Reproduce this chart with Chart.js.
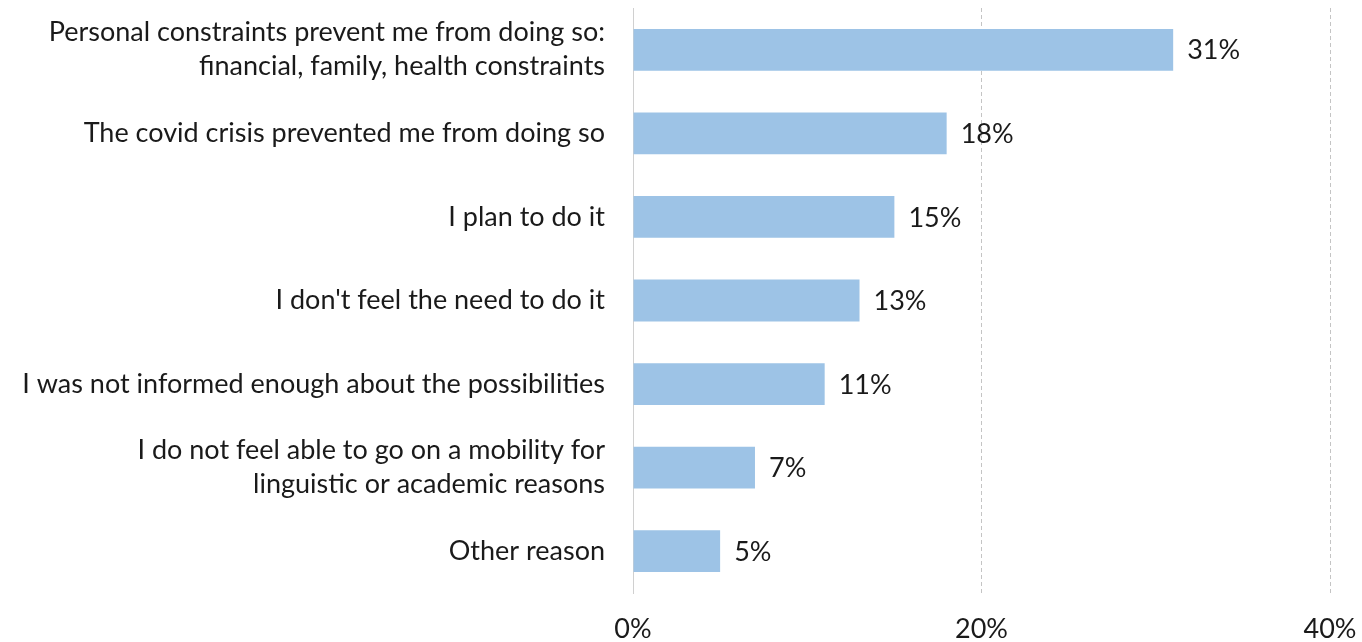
<!DOCTYPE html>
<html>
<head>
<meta charset="utf-8">
<script src="https://cdn.jsdelivr.net/npm/chart.js@4"></script>
<style>
  html, body { margin: 0; padding: 0; background: #fff; }
  #wrap { width: 1362px; height: 642px; }
</style>
</head>
<body>
<div id="wrap"><canvas id="chart"></canvas></div>
<script>
const reasons = [
  ["Personal constraints prevent me from doing so:", "financial, family, health constraints"],
  "The covid crisis prevented me from doing so",
  "I plan to do it",
  "I don't feel the need to do it",
  "I was not informed enough about the possibilities",
  ["I do not feel able to go on a mobility for", "linguistic or academic reasons"],
  "Other reason"
];
const shares = [31, 18, 15, 13, 11, 7, 5];
const axisTicks = [0, 20, 40];

const FONT = "Lato, 'Open Sans', sans-serif";
const TEXT = '#1a1a1a';

// writes "31%" etc. just past the end of each bar
const valueLabels = {
  id: 'valueLabels',
  afterDatasetsDraw(chart) {
    const ctx = chart.ctx;
    const meta = chart.getDatasetMeta(0);
    ctx.save();
    ctx.font = "27px " + FONT;
    ctx.fillStyle = TEXT;
    ctx.textAlign = 'left';
    ctx.textBaseline = 'middle';
    meta.data.forEach((bar, i) => {
      ctx.fillText(shares[i] + '%', bar.x + 14, bar.y + 1);
    });
    ctx.restore();
  }
};

new Chart(document.getElementById('chart'), {
  type: 'bar',
  data: {
    labels: reasons,
    datasets: [{
      data: shares,
      backgroundColor: '#9dc3e6',
      borderWidth: 0,
      barPercentage: 0.5,
      categoryPercentage: 1
    }]
  },
  options: {
    indexAxis: 'y',
    responsive: true,
    maintainAspectRatio: false,
    animation: false,
    layout: { padding: { top: 8, right: 32, bottom: 0, left: 0 } },
    plugins: {
      legend: { display: false },
      tooltip: { enabled: false }
    },
    scales: {
      x: {
        min: 0,
        max: 40,
        afterBuildTicks(scale) {
          scale.ticks = axisTicks.map(v => ({ value: v }));
        },
        afterFit(scale) {
          scale.height = 49;
          scale.paddingLeft = 0;
          scale.paddingRight = 0;
        },
        grid: {
          // the 0% line is the solid y-axis border instead
          color: c => c.tick && c.tick.value === 0 ? 'rgba(0,0,0,0)' : '#c4c4c4',
          lineWidth: 1,
          drawTicks: false
        },
        border: { display: false, dash: [4, 3] },
        ticks: {
          padding: 20,
          color: TEXT,
          font: { size: 27, family: FONT },
          callback: v => v + '%'
        }
      },
      y: {
        grid: { display: false, drawTicks: false },
        border: { display: true, color: '#d0d0d0', width: 1 },
        afterFit(scale) {
          scale.width = 633;
          scale.paddingTop = 0;
          scale.paddingBottom = 0;
        },
        ticks: {
          padding: 28,
          color: TEXT,
          font: { size: 27, family: FONT, lineHeight: 1.26 }
        }
      }
    }
  },
  plugins: [valueLabels]
});
</script>
</body>
</html>
